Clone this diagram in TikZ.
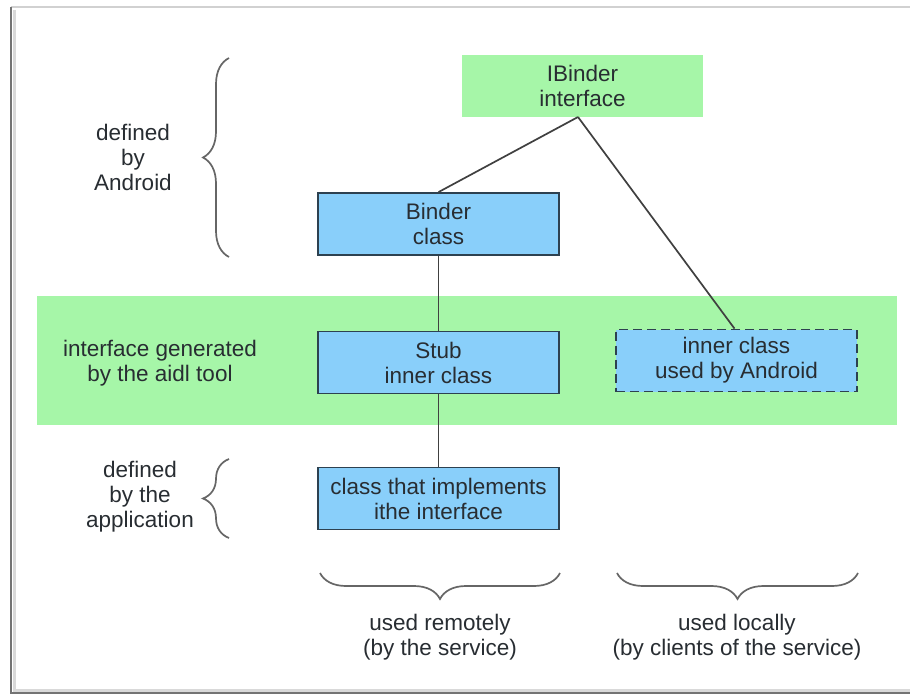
\documentclass[tikz,border=0pt]{standalone}
\usepackage{fontspec}
\setmainfont{Liberation Sans}
\usetikzlibrary{decorations.pathreplacing}
\definecolor{bandgreen}{RGB}{166,246,168}
\definecolor{boxblue}{RGB}{137,207,250}
\definecolor{boxedge}{RGB}{45,65,80}
\definecolor{txt}{RGB}{40,45,50}
\tikzset{
  box/.style={draw=boxedge, line width=1.8pt, fill=boxblue, minimum width=241pt, minimum height=62pt, align=center, text=txt, inner sep=0pt},
  greenbox/.style={fill=bandgreen, minimum width=241pt, minimum height=62pt, align=center, text=txt, inner sep=0pt},
  dashbox/.style={box, dash pattern=on 9pt off 5pt},
  conn/.style={draw=black!75, line width=1.7pt},
  lbl/.style={align=center, text=txt, inner sep=0pt},
  bracest/.style={draw=black!60, line width=1.7pt, decorate, decoration={brace, amplitude=26pt}}
}
\begin{document}
\begin{tikzpicture}[x=1pt, y=-1pt, font=\fontsize{22.5}{25}\selectfont]
\useasboundingbox (0,0) rectangle (910,698);
\fill[white] (0,0) rectangle (910,698);
% frame
\draw[black!18, line width=1.5pt] (11,7) -- (910,7);
\draw[black!55, line width=2pt] (11,7) -- (11,693) -- (910,693);
\draw[black!15, line width=3pt] (14,10) -- (14,690) -- (910,690);
% band
\fill[bandgreen] (37,296) rectangle (897,425);
% nodes
\node[greenbox] (ib) at (582.5,86) {IBinder\\interface};
\node[box] (binder) at (438.5,224) {Binder\\class};
\node[box] (stub) at (438.5,362.5) {Stub\\inner class};
\node[box] (impl) at (438.5,498.5) {class that implements\\ithe interface};
\node[dashbox] (inner) at (736.5,360.5) {inner class\\used by Android};
\coordinate (ibs) at (578,117);
% connectors
\draw[conn] (ibs) -- (binder.north);
\draw[conn] (ibs) -- ([xshift=-2pt]inner.north);
\draw[conn] (binder.south) -- (stub.north);
\draw[conn] (stub.south) -- (impl.north);
% labels
\node[lbl] (l1) at (133,157) {defined\\by\\Android};
\node[lbl] (l2) at (160,363) {interface generated\\by the aidl tool};
\node[lbl] (l3) at (140,497) {defined\\by the\\application};
\node[lbl] (l4) at (440,637) {used remotely\\(by the service)};
\node[lbl] (l5) at (737,637) {used locally\\(by clients of the service)};
% braces
\coordinate (b1a) at (229,257); \coordinate (b1b) at (229,58);
\coordinate (b2a) at (229,538); \coordinate (b2b) at (229,459);
\coordinate (b3a) at (560,573); \coordinate (b3b) at (320,573);
\coordinate (b4a) at (858,573); \coordinate (b4b) at (617,573);
\draw[bracest] (b1a) -- (b1b);
\draw[bracest] (b2a) -- (b2b);
\draw[bracest] (b3a) -- (b3b);
\draw[bracest] (b4a) -- (b4b);
\end{tikzpicture}
\end{document}
